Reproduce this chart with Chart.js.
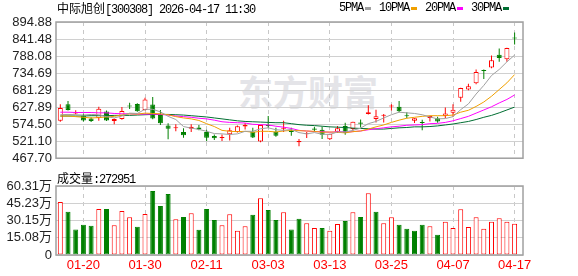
<!DOCTYPE html>
<html>
<head>
<meta charset="utf-8">
<script src="https://cdn.jsdelivr.net/npm/chart.js@4.4.1/dist/chart.umd.min.js"></script>
<style>
  html, body { margin: 0; padding: 0; background: #fff; }
  #wrap { position: relative; width: 578px; height: 276px; overflow: hidden; }
  canvas { position: absolute; left: 0; }
  #kline { top: 0; }
  #vol { top: 170px; }
  .txt { position: absolute; font-size: 12px; line-height: 14px; color: #000; white-space: nowrap; }
  .mono { font-family: 'Liberation Mono', monospace; letter-spacing: -1.2px; }
  .cjk { font-family: 'Noto Sans CJK SC', sans-serif; }
  #legend { position: absolute; left: 339px; top: 1px; display: flex; align-items: center; height: 14px; }
  #legend .dash { width: 6px; height: 3px; margin: 0 8px 0 2px; }
  #mark { position: absolute; left: 238px; top: 71px; font: bold 35px 'Noto Sans CJK SC', sans-serif; color: #e4e4e8; line-height: 40px; }
</style>
</head>
<body>
<div id="wrap">
  <div id="mark">东方财富</div>
  <canvas id="kline" width="578" height="170"></canvas>
  <canvas id="vol" width="578" height="106"></canvas>
  <div class="txt" style="left:57px;top:1px"><span class="cjk">中际旭创</span><span class="mono">[300308] 2026-04-17 11:30</span></div>
  <div id="legend" class="txt"></div>
  <div class="txt" style="left:57px;top:171px"><span class="cjk">成交量</span><span class="mono">:272951</span></div>
</div>
<script>
// trading days shown, oldest first
const dates = [
  '01-15', '01-16', '01-19', '01-20', '01-21', '01-22', '01-23', '01-26', '01-27', '01-28',
  '01-29', '01-30', '02-02', '02-03', '02-04', '02-05', '02-06', '02-09', '02-10', '02-11',
  '02-12', '02-13', '02-24', '02-25', '02-26', '02-27', '03-02', '03-03', '03-04', '03-05',
  '03-06', '03-09', '03-10', '03-11', '03-12', '03-13', '03-16', '03-17', '03-18', '03-19',
  '03-20', '03-23', '03-24', '03-25', '03-26', '03-27', '03-30', '03-31', '04-01', '04-02',
  '04-03', '04-07', '04-08', '04-09', '04-10', '04-13', '04-14', '04-15', '04-16', '04-17',
];
const labelIdx = [3, 11, 19, 27, 35, 43, 51, 59];

const opens = [585, 637, 608, 602, 592, 594, 614, 584, 591, 633, 638, 619, 636, 603, 570, 562, 550, 560, 564, 550,
  537, 531, 543, 550, 567, 551, 520, 572, 551, 560, 553, 518, 543, 561, 557, 527, 551, 569, 559, 580,
  606, 591, 601, 630, 629, 601, 585, 581, 594, 593, 600, 610, 657, 683, 703, 744, 752, 792, 778, 845];
const highs = [637, 647, 618, 607, 596, 629, 617, 592, 628, 642, 640, 657, 660, 619, 577, 574, 562, 574, 572, 557,
  542, 542, 563, 570, 578, 563, 573, 600, 563, 585, 563, 528, 550, 566, 566, 544, 569, 579, 582, 589,
  634, 620, 606, 637, 647, 612, 593, 588, 601, 598, 627, 637, 689, 701, 746, 746, 790, 812, 814, 862];
const lows = [582, 617, 605, 583, 581, 585, 584, 574, 588, 622, 613, 617, 590, 572, 527, 552, 532, 550, 555, 522,
  525, 522, 523, 548, 558, 531, 518, 563, 535, 550, 538, 505, 531, 551, 528, 525, 547, 541, 554, 564,
  605, 580, 580, 617, 612, 593, 578, 555, 583, 579, 594, 597, 645, 681, 700, 716, 750, 770, 770, 824];
const closes = [625, 619, 610, 586, 584, 623, 586, 591, 616, 630, 615, 652, 592, 577, 560, 565, 540, 566, 558, 532,
  530, 534, 555, 568, 572, 533, 572, 569, 538, 563, 550, 522, 546, 557, 541, 544, 562, 547, 582, 576,
  612, 599, 603, 632, 615, 599, 593, 578, 600, 583, 608, 620, 688, 693, 738, 741, 775, 782, 813, 843];

// volume in 万手, and bar colour as drawn (R up / G down)
const vols = [46.4, 37.7, 22.3, 26.4, 25.5, 40.3, 40.3, 26.1, 38.5, 33.0, 24.6, 35.9, 55.9, 42.9, 53.3, 31.3, 33.3, 36.5, 22.0, 40.3,
  30.7, 26.1, 35.7, 21.1, 25.2, 35.1, 49.6, 39.4, 30.7, 37.4, 22.3, 31.6, 27.8, 23.5, 23.7, 21.1, 27.0, 29.8, 37.4, 33.3,
  53.9, 37.7, 27.8, 33.0, 26.4, 22.9, 21.1, 26.4, 25.2, 17.7, 29.0, 23.7, 40.0, 24.4, 33.0, 22.9, 29.0, 32.2, 29.0, 27.3];
const volDir = 'RGGGGRGRRRGRGGGRGRGGGRRRRGRGGRGGRRGRRGRGRGRRGGGGRGRRRRRRRRRR';

const ma5 = [604, 605, 604, 603, 605, 604, 598, 594, 600, 609, 608, 621, 621, 613, 599, 589, 567, 562, 558, 552,
  545, 544, 542, 544, 552, 552, 560, 563, 557, 555, 558, 548, 544, 548, 543, 542, 550, 550, 555, 562,
  576, 583, 594, 604, 612, 610, 608, 604, 597, 591, 592, 598, 620, 638, 669, 696, 727, 746, 770, 791];
const ma10 = [600, 600, 598, 596, 594, 595, 597, 599, 603, 607, 606, 609, 608, 607, 604, 598, 594, 591, 586, 576,
  567, 555, 552, 551, 552, 549, 552, 552, 550, 553, 555, 554, 553, 552, 549, 550, 549, 547, 551, 553,
  559, 566, 572, 580, 587, 593, 596, 599, 601, 601, 601, 603, 612, 618, 630, 644, 662, 683, 704, 730];
const ma20 = [612, 612, 611, 611, 611, 610, 610, 608, 607, 607, 606, 606, 606, 605, 603, 600, 598, 596, 593, 591,
  587, 582, 580, 579, 578, 574, 573, 572, 568, 565, 561, 555, 553, 551, 551, 549, 551, 550, 551, 553,
  557, 560, 563, 566, 568, 571, 572, 573, 576, 577, 580, 585, 592, 599, 609, 619, 629, 641, 652, 666];
const ma30 = [600, 600, 600, 600, 601, 601, 601, 602, 602, 602, 603, 604, 605, 605, 605, 604, 603, 601, 599, 597,
  594, 591, 588, 585, 583, 582, 581, 580, 579, 579, 576, 573, 571, 570, 568, 566, 565, 564, 562, 561,
  560, 559, 559, 561, 563, 564, 566, 566, 567, 569, 572, 575, 579, 583, 589, 596, 602, 610, 619, 628];

const priceTicks = [467.70, 521.10, 574.50, 627.89, 681.29, 734.69, 788.08, 841.48, 894.88];
const volTicks = [0, 15.08, 30.15, 45.23, 60.31];

const RED = '#ff0000', GREEN = '#008000';
const maSeries = [
  { label: '5PMA', data: ma5, color: '#a0a0a0' },
  { label: '10PMA', data: ma10, color: '#f0a000' },
  { label: '20PMA', data: ma20, color: '#ff00ff' },
  { label: '30PMA', data: ma30, color: '#006e32' },
];
const FONT = "'Liberation Sans', 'Noto Sans CJK SC', sans-serif";

// legend strip at the top right
document.getElementById('legend').innerHTML = maSeries.map((m) =>
  `<span class="mono">${m.label}</span><span class="dash" style="background:${m.color}"></span>`).join('');

const frame = {
  id: 'frame',
  afterDraw(chart) {
    const { ctx, chartArea: a } = chart;
    ctx.save();
    ctx.strokeStyle = '#a0a0a0';
    ctx.lineWidth = 1.5;
    ctx.strokeRect(a.left, a.top, a.right - a.left, a.bottom - a.top);
    ctx.restore();
  },
};

function xScale(showLabels) {
  return {
    type: 'linear', min: -0.56, max: 60.09, offset: false, bounds: 'data',
    afterBuildTicks: (s) => { s.ticks = labelIdx.map((v) => ({ value: v })); },
    afterFit: (s) => { s.height = showLabels ? 21 : 0; },
    grid: { color: '#c8c8c8', drawTicks: false, offset: false },
    border: { display: false, dash: [4, 4] },
    ticks: { display: showLabels, color: RED, padding: 3, maxRotation: 0, autoSkip: false, font: { family: FONT, size: 13 }, callback: (v) => dates[v] },
  };
}

function yScale(min, max, ticks, fmt) {
  return {
    min, max, bounds: 'data',
    afterBuildTicks: (s) => { s.ticks = ticks.map((v) => ({ value: v })); },
    afterFit: (s) => { s.width = 56; },
    grid: { color: '#d0d0d0', drawTicks: false },
    border: { display: false },
    ticks: { color: '#222', padding: 4, autoSkip: false, font: { family: FONT, size: 13 }, callback: fmt },
  };
}

const up = opens.map((o, i) => closes[i] >= o);

new Chart(document.getElementById('kline'), {
  type: 'bar',
  data: {
    datasets: [
      ...maSeries.map((m) => ({
        type: 'line', label: m.label, data: m.data.map((v, i) => ({ x: i, y: v })),
        borderColor: m.color, borderWidth: 1, pointRadius: 0, tension: 0, order: 0,
      })),
      {
        label: 'body', data: opens.map((o, i) => ({ x: i, y: [o, closes[i]] })),
        backgroundColor: up.map((u) => u ? '#fff' : GREEN), borderColor: up.map((u) => u ? RED : GREEN),
        borderWidth: 1, borderSkipped: false, barThickness: 5, minBarLength: 1, inflateAmount: 0, grouped: false, order: 1,
      },
      {
        label: 'wick', data: highs.map((h, i) => ({ x: i, y: [lows[i], h] })),
        backgroundColor: up.map((u) => u ? RED : GREEN), barThickness: 1, inflateAmount: 0, grouped: false, order: 2,
      },
    ],
  },
  options: {
    responsive: false, animation: false, devicePixelRatio: 1,
    layout: { padding: { left: 0, right: 55, top: 22, bottom: 5 } },
    plugins: { legend: { display: false }, tooltip: { enabled: false } },
    scales: {
      x: xScale(false),
      y: yScale(467.70, 894.88, priceTicks, (v) => v.toFixed(2)),
    },
  },
  plugins: [frame],
});

new Chart(document.getElementById('vol'), {
  type: 'bar',
  data: {
    datasets: [{
      label: 'vol', data: vols.map((v, i) => ({ x: i, y: v })),
      backgroundColor: [...volDir].map((d) => d === 'R' ? '#fff' : GREEN),
      borderColor: [...volDir].map((d) => d === 'R' ? RED : GREEN),
      borderWidth: 1, borderSkipped: false, barThickness: 5, inflateAmount: 0,
    }],
  },
  options: {
    responsive: false, animation: false, devicePixelRatio: 1,
    layout: { padding: { left: 0, right: 55, top: 16, bottom: 0 } },
    plugins: { legend: { display: false }, tooltip: { enabled: false } },
    scales: {
      x: xScale(true),
      y: yScale(0, 60.31, volTicks, (v) => v === 0 ? '0' : v.toFixed(2) + '万'),
    },
  },
  plugins: [frame],
});
</script>
</body>
</html>
